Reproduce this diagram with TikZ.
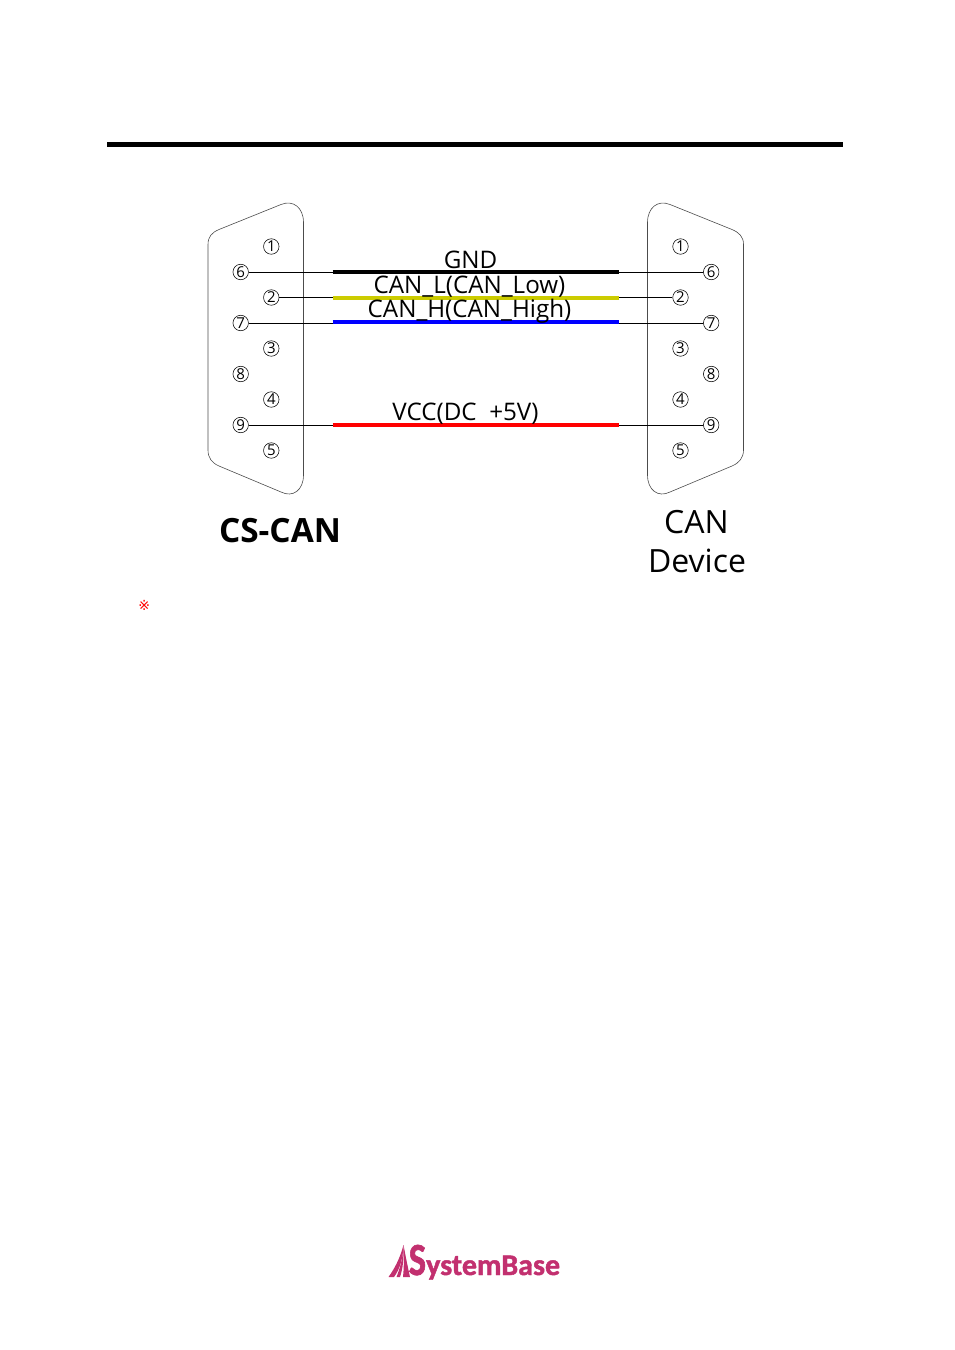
\documentclass[tikz,border=0pt]{standalone}
\usepackage{fontspec}
\setmainfont{Open Sans}
\newfontfamily\symf{DejaVu Sans}
\newfontfamily\logof{Carlito}[BoldFeatures={FakeBold=1.5}]
\definecolor{logoc}{HTML}{C2306F}
\definecolor{wyellow}{HTML}{CCCC00}
\tikzset{
 x=1pt,y=-1pt,
 pin/.style={circle,draw=black,line width=.55pt,minimum size=15.5pt,inner sep=0pt,font=\fontsize{15}{15}\selectfont},
 shell/.style={draw=black!70,line width=.6pt},
 thin wire/.style={draw=black,line width=.8pt},
 thick wire/.style={line width=4pt},
 lbl/.style={anchor=base,inner sep=0pt,font=\fontsize{24.2}{26}\selectfont},
 captext/.style={anchor=base,inner sep=0pt,font=\fontsize{32}{36}\selectfont},
 logotext/.style={anchor=base west,inner sep=0pt,text=logoc}
}
\begin{document}
\begin{tikzpicture}
\useasboundingbox (0,0) rectangle (954,1350);
\fill[black] (107,142) rectangle (843,147);
% shells
\draw[shell] (303.5,222.5) -- (303.5,475) .. controls (303.5,490) and (293,498) .. (281,492) -- (219,466) .. controls (212,463) and (208,458) .. (208,450) -- (208,244.5) .. controls (208,236.5) and (212,232.5) .. (219,229.5) -- (281,204.5) .. controls (293,199.5) and (303.5,207.5) .. (303.5,222.5) -- cycle;
\draw[shell] (647.5,222.5) -- (647.5,475) .. controls (647.5,490) and (658,498) .. (670,492) -- (732,466) .. controls (739,463) and (743.5,458) .. (743.5,450) -- (743.5,244.5) .. controls (743.5,236.5) and (739,232.5) .. (732,229.5) -- (670,204.5) .. controls (658,199.5) and (647.5,207.5) .. (647.5,222.5) -- cycle;
% pins
\foreach \n/\yy in {1/246.5,2/297.5,3/348.5,4/399.5,5/450.5}{
 \node[pin] (L\n) at (271.3,\yy) {\n};
 \node[pin] (R\n) at (680.5,\yy) {\n};
}
\foreach \n/\yy in {6/272,7/323,8/374,9/425}{
 \node[pin] (L\n) at (240.7,\yy) {\n};
 \node[pin] (R\n) at (711.2,\yy) {\n};
}
% wires
\foreach \n in {6,2,7,9}{
 \draw[thin wire] (L\n) -- (R\n);
}
\coordinate (a6) at (332.5,271.5); \coordinate (b6) at (618.5,271.5);
\coordinate (a2) at (332.5,298); \coordinate (b2) at (618.5,298);
\coordinate (a7) at (332.5,322); \coordinate (b7) at (618.5,322);
\coordinate (a9) at (332.5,425); \coordinate (b9) at (618.5,425);
\draw[thick wire,black] (a6) -- (b6);
\draw[thick wire,wyellow] (a2) -- (b2);
\draw[thick wire,blue] (a7) -- (b7);
\draw[thick wire,red] (a9) -- (b9);
% labels
\node[lbl] (gnd) at (470.5,268) {GND};
\node[lbl] (canl) at (469.5,293) {CAN\_L(CAN\_Low)};
\node[lbl] (canh) at (469.5,317.5) {CAN\_H(CAN\_High)};
\node[lbl] (vcc) at (465.5,420) {VCC(DC\ \ +5V)};
\node[captext,font=\fontsize{33.4}{36}\selectfont] (cs) at (280,542.5) {\bfseries CS-CAN};
\node[captext] (can) at (696.5,533) {CAN};
\node[captext] (dev) at (697,572) {Device};
\node[inner sep=0pt,text=red,font=\symf\fontsize{14}{14}\selectfont] (mark) at (144.3,605.5) {※};
% logo
\fill[logoc] (388.5,1277) .. controls (395,1268) and (400,1258) .. (403.5,1245) .. controls (403,1258) and (400,1269) .. (394,1277) -- cycle;
\fill[logoc] (396.5,1277) .. controls (400,1268) and (403,1258) .. (403.5,1245) .. controls (404,1258) and (403,1268) .. (400,1277) -- cycle;
\fill[logoc] (403,1277) .. controls (404,1268) and (404,1258) .. (403.5,1245) .. controls (406,1258) and (408,1268) .. (410,1277) -- cycle;
\node[logotext,font=\logof\bfseries\fontsize{46}{46}\selectfont] (logoS) at (408.5,1275) {\scalebox{.8}[1]{S}};
\node[logotext,font=\logof\bfseries\fontsize{30}{30}\selectfont] (logoT) at (426,1275) {ystemBase};
\end{tikzpicture}
\end{document}
